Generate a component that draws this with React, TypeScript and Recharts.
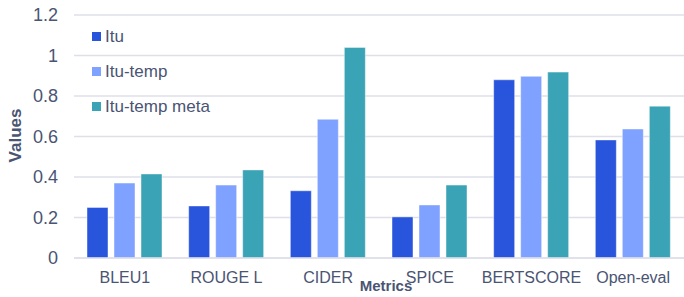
import { BarChart, Bar, XAxis, YAxis, CartesianGrid } from "recharts";

const metrics = ["BLEU1", "ROUGE L", "CIDER", "SPICE", "BERTSCORE", "Open-eval"];
const itu = [0.25, 0.257, 0.332, 0.203, 0.88, 0.583];
const ituTemp = [0.37, 0.36, 0.685, 0.262, 0.897, 0.637];
const ituTempMeta = [0.415, 0.435, 1.04, 0.36, 0.918, 0.75];
const yTicks = [0, 0.2, 0.4, 0.6, 0.8, 1, 1.2];

const series = [
  { key: "itu", name: "Itu", color: "#2954DC" },
  { key: "ituTemp", name: "Itu-temp", color: "#7FA1FF" },
  { key: "ituTempMeta", name: "Itu-temp meta", color: "#3AA3B6" },
];

const data = metrics.map((m, i) => ({
  metric: m,
  itu: itu[i],
  ituTemp: ituTemp[i],
  ituTempMeta: ituTempMeta[i],
}));

const TEXT = "#4A5473";
const GRID = "#DEDFEA";
const FONT = "'Liberation Sans', Arial, sans-serif";

// legend sits over the plot, so it's drawn outside recharts' layout
function LegendBox() {
  return (
    <div
      style={{
        position: "absolute",
        left: 92,
        top: 19,
        fontFamily: FONT,
        fontSize: 17,
        color: TEXT,
      }}
    >
      {series.map((s) => (
        <div
          key={s.key}
          style={{ display: "flex", alignItems: "center", height: 35 }}
        >
          <span
            style={{
              width: 9,
              height: 9,
              background: s.color,
              marginRight: 4,
              display: "inline-block",
            }}
          />
          <span>{s.name}</span>
        </div>
      ))}
    </div>
  );
}

function ValuesLabel({ viewBox }: any) {
  const x = viewBox.x + 15;
  const y = viewBox.y + viewBox.height / 2 - 1;
  return (
    <text
      x={x}
      y={y}
      transform={`rotate(-90 ${x} ${y})`}
      textAnchor="middle"
      dominantBaseline="central"
      fontFamily={FONT}
      fontSize={17}
      fontWeight="bold"
      fill={TEXT}
    >
      Values
    </text>
  );
}

function MetricsLabel({ viewBox }: any) {
  const x = viewBox.x + viewBox.width / 2 + 7;
  const y = viewBox.y + 33;
  return (
    <text
      x={x}
      y={y}
      textAnchor="middle"
      fontFamily={FONT}
      fontSize={15}
      fontWeight="bold"
      fill={TEXT}
    >
      Metrics
    </text>
  );
}

export default function App() {
  return (
    <div style={{ position: "absolute", left: 0, top: 0, background: "#fff" }}>
      <BarChart
        width={684}
        height={297}
        data={data}
        margin={{ top: 15, right: 0, left: 0, bottom: 0 }}
        barGap={6}
        barSize={21}
      >
        <CartesianGrid stroke={GRID} strokeWidth={1.5} vertical={false} />
        <XAxis
          dataKey="metric"
          height={39}
          axisLine={{ stroke: GRID, strokeWidth: 1.5 }}
          tickLine={false}
          tickMargin={8}
          tick={{ fontSize: 16, fill: TEXT, fontFamily: FONT }}
          interval={0}
          label={<MetricsLabel />}
        />
        <YAxis
          width={74}
          domain={[0, 1.2]}
          ticks={yTicks}
          axisLine={false}
          tickLine={false}
          tickSize={0}
          tickMargin={16}
          tick={{ fontSize: 18, fill: TEXT, fontFamily: FONT }}
          label={<ValuesLabel />}
        />
        {series.map((s) => (
          <Bar
            key={s.key}
            dataKey={s.key}
            name={s.name}
            fill={s.color}
            stroke="#ffffff"
            strokeOpacity={0.45}
            strokeWidth={1}
            isAnimationActive={false}
          />
        ))}
      </BarChart>
      <LegendBox />
    </div>
  );
}
